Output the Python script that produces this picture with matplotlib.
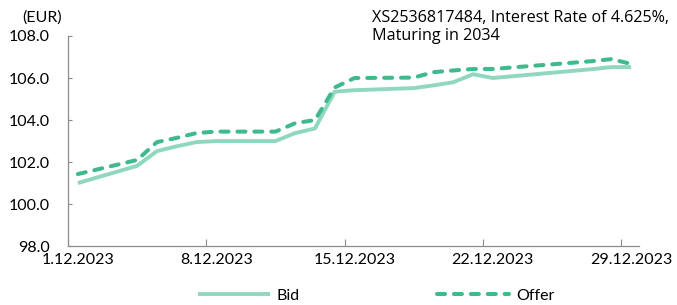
import matplotlib
matplotlib.use("Agg")
import matplotlib.pyplot as plt
import matplotlib.dates as mdates
from matplotlib.ticker import FixedLocator, NullFormatter, FixedFormatter
import pandas as pd

plt.rcParams["font.family"] = ["Lato", "DejaVu Sans"]

# trading days in December 2023
days = ["2023-12-01", "2023-12-04", "2023-12-05", "2023-12-06", "2023-12-07",
        "2023-12-08", "2023-12-11", "2023-12-12", "2023-12-13", "2023-12-14",
        "2023-12-15", "2023-12-18", "2023-12-19", "2023-12-20", "2023-12-21",
        "2023-12-22", "2023-12-27", "2023-12-28", "2023-12-29"]
bid = [101.0, 101.82, 102.52, 102.75, 102.95, 103.0, 103.0, 103.38, 103.6, 105.35,
       105.42, 105.52, 105.65, 105.8, 106.18, 106.0, 106.42, 106.52, 106.52]
offer = [101.43, 102.1, 102.95, 103.15, 103.38, 103.45, 103.45, 103.85, 104.0, 105.55,
         106.0, 106.02, 106.28, 106.36, 106.43, 106.43, 106.8, 106.9, 106.67]
tick_days = ["2023-12-01", "2023-12-08", "2023-12-15", "2023-12-22", "2023-12-29"]
tick_labels = ["1.12.2023", "8.12.2023", "15.12.2023", "22.12.2023", "29.12.2023"]
title = "XS2536817484, Interest Rate of 4.625%,\nMaturing in 2034"

bid_color = "#8fd8bd"
offer_color = "#3fba8d"

x = mdates.date2num(pd.to_datetime(days))
xt = mdates.date2num(pd.to_datetime(tick_days))

fig = plt.figure(figsize=(6.77, 3.05), dpi=100)
ax = fig.add_axes([0.1004, 0.193, 0.8435, 0.689])

ax.plot(x, bid, color=bid_color, lw=2.8, solid_capstyle="butt", label="Bid")
ax.plot(x, offer, color=offer_color, lw=2.9, dashes=(2.0, 2.2),
        dash_capstyle="round", label="Offer")

ax.set_ylim(98, 108)
ax.set_yticks([98, 100, 102, 104, 106, 108])
ax.set_yticklabels([f"{v:.1f}" for v in [98, 100, 102, 104, 106, 108]])
ax.set_xlim(xt[0] - 0.5, xt[-1] + 0.4)

# tick marks on day boundaries, labels on day centres
ax.xaxis.set_major_locator(FixedLocator(xt - 0.5))
ax.xaxis.set_major_formatter(NullFormatter())
ax.xaxis.set_minor_locator(FixedLocator(xt))
ax.xaxis.set_minor_formatter(FixedFormatter(tick_labels))
ax.tick_params(axis="x", which="major", direction="in", length=5, color="#8c8c8c")
ax.tick_params(axis="x", which="minor", length=0, labelsize=11.5, pad=5)
ax.tick_params(axis="y", direction="in", length=3, color="#8c8c8c", labelsize=11.5, pad=13)

for s in ["top", "right"]:
    ax.spines[s].set_visible(False)
for s in ["left", "bottom"]:
    ax.spines[s].set_color("#8c8c8c")
    ax.spines[s].set_linewidth(0.9)

fig.text(0.0325, 0.942, "(EUR)", fontsize=11.5, va="center", ha="left")
fig.text(0.549, 0.967, title, fontsize=11.6, va="top", ha="left", linespacing=1.2,
         family=["Open Sans", "DejaVu Sans"])

fig.legend(loc="center", bbox_to_anchor=(0.556, 0.03), ncol=2, frameon=False,
           handlelength=4.5, columnspacing=8.6, fontsize=11.5, handletextpad=0.45)

fig.savefig("out.png", dpi=100)
